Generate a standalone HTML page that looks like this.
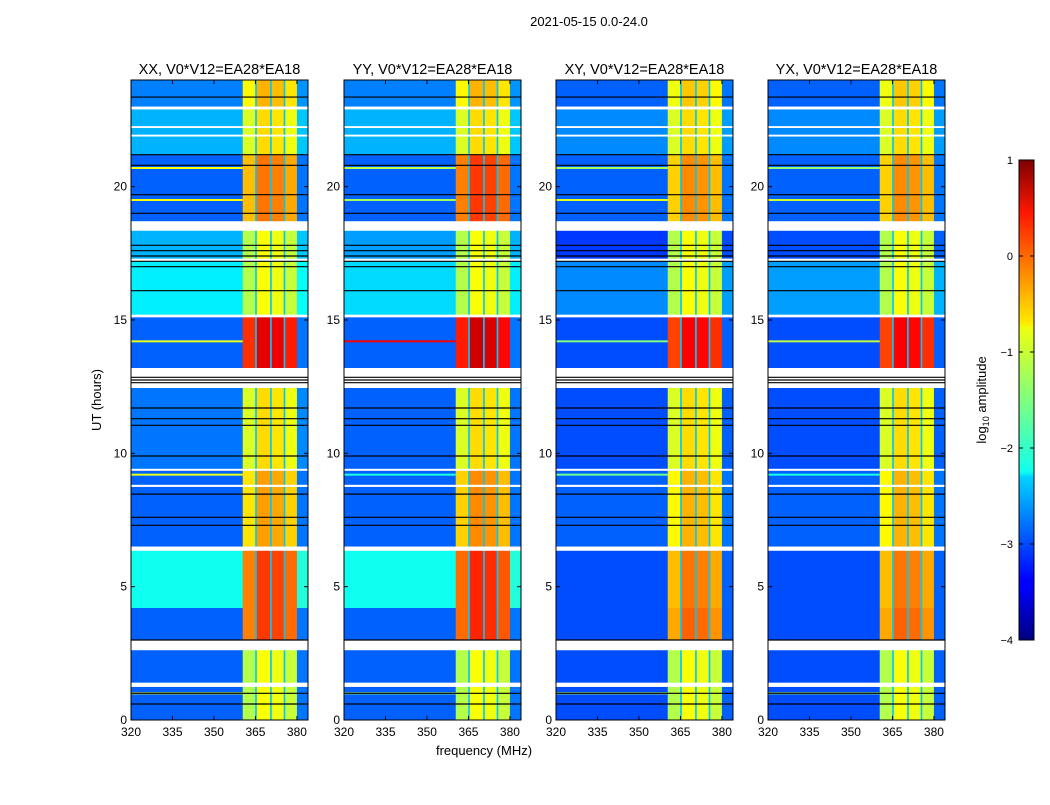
<!DOCTYPE html>
<html><head><meta charset="utf-8"><style>
body{margin:0;background:#fff;font-family:"Liberation Sans",sans-serif}
svg text{font-family:"Liberation Sans",sans-serif}
</style></head><body>
<svg id="fig" width="1050" height="800" viewBox="0 0 1050 800" xmlns="http://www.w3.org/2000/svg">
<rect width="1050" height="800" fill="#fff"/>
<text x="589" y="26" font-size="13" text-anchor="middle">2021-05-15 0.0-24.0</text>
<g id="panels"></g>
<text transform="translate(101,400) rotate(-90)" font-size="13" text-anchor="middle">UT (hours)</text>
<text x="484" y="755" font-size="13" text-anchor="middle">frequency (MHz)</text>
<defs><linearGradient id="jet" x1="0" y1="1" x2="0" y2="0">
<stop offset="0" stop-color="#00007f"/><stop offset="0.11" stop-color="#0000ff"/><stop offset="0.125" stop-color="#0000ff"/>
<stop offset="0.34" stop-color="#00d4ff"/><stop offset="0.35" stop-color="#0fffee"/><stop offset="0.5" stop-color="#7fff7f"/>
<stop offset="0.65" stop-color="#eeff0f"/><stop offset="0.66" stop-color="#ffeb00"/><stop offset="0.89" stop-color="#ff1700"/>
<stop offset="1" stop-color="#7f0000"/></linearGradient></defs>
<g>
<rect x="1019" y="160" width="15" height="480" fill="url(#jet)" stroke="#000" stroke-width="1"/>
<g id="cbticks"></g>
<text transform="translate(986,400) rotate(-90)" font-size="13" text-anchor="middle">log<tspan font-size="9" dy="3">10</tspan><tspan dy="-3"> amplitude</tspan></text>
</g>
</svg>
<script>
// ---- data ----
const panelTitles = ["XX, V0*V12=EA28*EA18","YY, V0*V12=EA28*EA18","XY, V0*V12=EA28*EA18","YX, V0*V12=EA28*EA18"];
const panelX = [131, 344, 556, 768];
// time blocks (hours)
const blockT0 = [23.0, 21.2, 18.7, 17.3, 15.2, 13.2, 12.8, 9.4, 6.5, 4.2, 3.0, 0.0];
const blockT1 = [24.0, 22.9, 21.2, 18.35, 17.2, 15.1, 12.5, 12.45, 9.35, 6.35, 4.2, 2.62];
const bgLevel = [
 [-2.75,-2.5,-2.9,-2.5,-2.2,-2.9,-2.9,-2.8,-2.9,-2.05,-2.9,-2.9],
 [-2.75,-2.5,-2.9,-2.6,-2.3,-2.9,-2.9,-2.9,-2.9,-2.05,-2.9,-2.9],
 [-2.9,-2.7,-2.9,-3.1,-2.7,-3.0,-3.0,-3.0,-2.9,-3.0,-3.0,-3.0],
 [-2.9,-2.7,-2.9,-3.0,-2.6,-3.0,-3.0,-3.0,-2.9,-3.0,-3.0,-3.0]];
const bandLevel = [
 [-0.6,-0.8,-0.3,-1.0,-1.0,0.4,-0.7,-0.8,-0.5,0.0,0.0,-1.0],
 [-0.6,-0.8,0.0,-1.0,-1.0,0.5,-0.7,-0.8,-0.4,0.1,0.1,-1.0],
 [-0.7,-0.8,-0.4,-1.0,-1.0,0.3,-0.7,-0.8,-0.6,-0.3,-0.2,-1.0],
 [-0.7,-0.8,-0.4,-1.0,-1.0,0.3,-0.7,-0.8,-0.6,-0.3,-0.2,-1.0]];
// frequency segments (MHz)
const segF0 = [320, 360.4, 364.9, 365.5, 370.3, 370.9, 375.2, 375.8, 380.0];
const segF1 = [360.4, 364.9, 365.5, 370.3, 370.9, 375.2, 375.8, 380.0, 384.0];
const segKind = ["bg","band","gap","band","gap","band","gap","band","edge"];
const segOffset = [0, -0.25, 0, 0.1, 0, 0.05, 0, -0.15, 0];
// flagged (white) rows
const flagT0 = [22.9, 22.2, 21.88, 18.35, 12.5, 9.35, 8.74, 6.35, 2.62, 1.24];
const flagT1 = [23.0, 22.27, 21.95, 18.7, 12.62, 9.42, 8.82, 6.5, 2.88, 1.4];
// black lines
const blackT = [23.36, 21.2, 20.8, 19.7, 19.0, 17.0, 17.2, 17.4, 17.6, 17.8, 16.1, 12.65, 12.75, 12.85, 11.7, 11.3, 11.05, 9.9, 8.47, 7.6, 7.3, 3.0, 1.0, 0.6];
// RFI lines: time and per-panel level
const rfiT = [20.7, 19.5, 14.2, 9.2, 1.0];
const rfiLevel = [[-0.9,-1.2,-1.3,-1.4],[-0.9,-1.3,-1.0,-1.1],[-1.0,0.4,-1.5,-1.2],[-1.0,-2.0,-1.6,-2.0],[-0.9,-1.3,-1.2,-1.3]];
const yTicks = [0,5,10,15,20];
const xTicks = [320,335,350,365,380];
const cbTicks = [1,0,-1,-2,-3,-4];

// ---- scales ----
const PW = 177, PTOP = 80, PBOT = 720;
const tY = t => PBOT - (t/24)*(PBOT-PTOP);
const fX = (p,f) => panelX[p] + (f-320)/(384-320)*PW;
function jet(v){
  const x = Math.max(0,Math.min(1,(v+4)/5));
  const c = a => Math.round(255*Math.max(0,Math.min(1,a)));
  return `rgb(${c(1.5-Math.abs(4*x-3))},${c(1.5-Math.abs(4*x-2))},${c(1.5-Math.abs(4*x-1))})`;
}
const NS="http://www.w3.org/2000/svg";
function mk(tag, attrs, parent){const e=document.createElementNS(NS,tag);for(const k in attrs)e.setAttribute(k,attrs[k]);parent.appendChild(e);return e;}
const root = document.getElementById('panels');
for(let p=0;p<4;p++){
  const g = mk('g',{},root);
  
  
  mk('rect',{x:panelX[p],y:PTOP,width:PW,height:PBOT-PTOP,fill:'#fff'},g);
  for(let b=0;b<blockT0.length;b++){
    for(let s=0;s<segF0.length;s++){
      let v;
      if(segKind[s]==="bg") v=bgLevel[p][b];
      else if(segKind[s]==="band") v=bandLevel[p][b]+segOffset[s];
      else if(segKind[s]==="gap") v=-2.4;
      else v=bgLevel[p][b]+0.1;
      const r = mk('rect',{x:fX(p,segF0[s]),y:tY(blockT1[b]),width:fX(p,segF1[s])-fX(p,segF0[s])+0.3,height:tY(blockT0[b])-tY(blockT1[b]),fill:jet(v)},g);
      
      
    }
  }
  for(let i=0;i<rfiT.length;i++){
    const r = mk('rect',{x:panelX[p],y:tY(rfiT[i])-1,width:fX(p,360.4)-panelX[p],height:2,fill:jet(rfiLevel[i][p])},g);
    
    
  }
  for(let i=0;i<flagT0.length;i++){
    const r = mk('rect',{x:panelX[p],y:tY(flagT1[i]),width:PW,height:tY(flagT0[i])-tY(flagT1[i]),fill:'#fff'},g);
    
    
  }
  for(const t of blackT){
    const l = mk('line',{x1:panelX[p],x2:panelX[p]+PW,y1:tY(t),y2:tY(t),stroke:'#000','stroke-width':1.2},g);
    
    
  }
  mk('rect',{x:panelX[p],y:PTOP,width:PW,height:PBOT-PTOP,fill:'none',stroke:'#000','stroke-width':1},g);
  const tt = mk('text',{x:panelX[p]+PW/2,y:74,'font-size':14.5,'text-anchor':'middle'},g);
  tt.textContent = panelTitles[p];
  
  
  for(const t of yTicks){
    const y=tY(t);
    mk('line',{x1:panelX[p],x2:panelX[p]+4,y1:y,y2:y,stroke:'#000'},g);
    mk('line',{x1:panelX[p]+PW-4,x2:panelX[p]+PW,y1:y,y2:y,stroke:'#000'},g);
    const tx = mk('text',{x:panelX[p]-4,y:y+4,'font-size':12,'text-anchor':'end'},g);
    tx.textContent = t;
    
    
  }
  for(const f of xTicks){
    const x=fX(p,f);
    mk('line',{x1:x,x2:x,y1:PBOT,y2:PBOT-4,stroke:'#000'},g);
    mk('line',{x1:x,x2:x,y1:PTOP,y2:PTOP+4,stroke:'#000'},g);
    const tx = mk('text',{x:x,y:PBOT+16,'font-size':12,'text-anchor':'middle'},g);
    tx.textContent = f;
    
    
  }
}
const cb = document.getElementById('cbticks');
for(const v of cbTicks){
  const y = 640 - (v+4)/5*480;
  mk('line',{x1:1019,x2:1023,y1:y,y2:y,stroke:'#000'},cb);
  mk('line',{x1:1030,x2:1034,y1:y,y2:y,stroke:'#000'},cb);
  const tx = mk('text',{x:1013,y:y+4,'font-size':11,'text-anchor':'end'},cb);
  tx.textContent = v<0 ? '\u2212'+(-v) : v;
  
  
}
</script>
</body></html>
